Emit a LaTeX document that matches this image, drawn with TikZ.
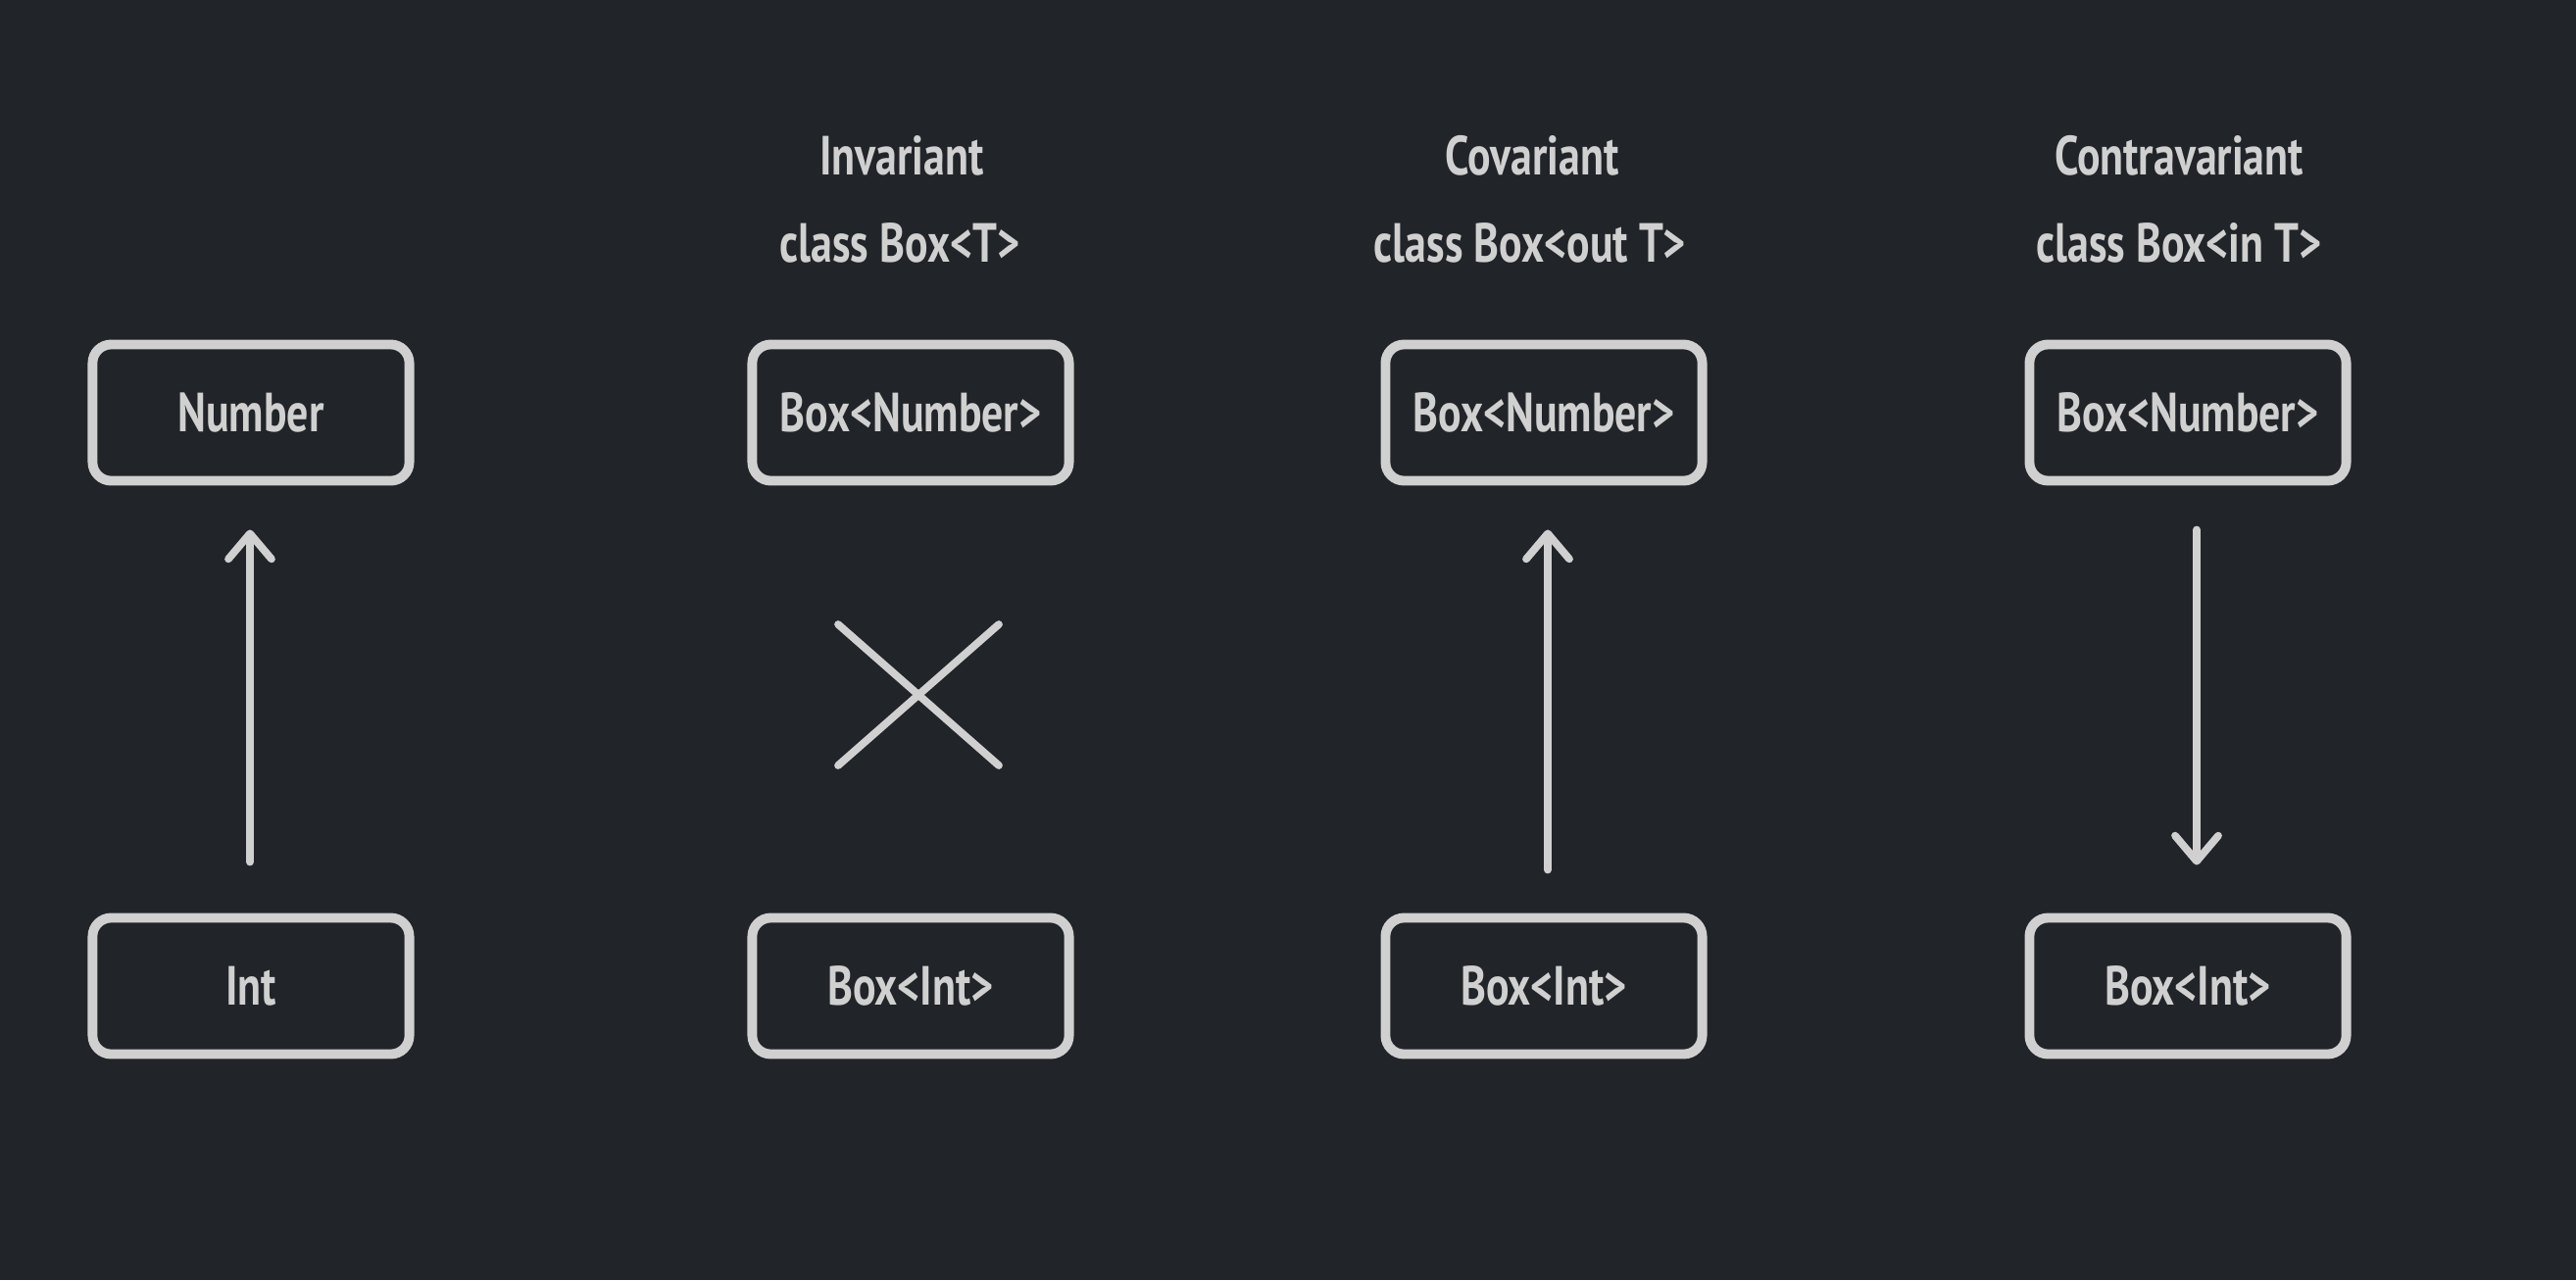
\documentclass[tikz,border=0pt]{standalone}
\usepackage{fontspec}
\setmainfont{PT Sans}[FakeStretch=0.78]
\usetikzlibrary{arrows.meta}
\definecolor{bg}{HTML}{212428}
\definecolor{ink}{HTML}{D0D0D0}
\tikzset{
  every node/.style={text=ink, font=\bfseries\fontsize{16pt}{19pt}\selectfont},
  tbox/.style={draw=ink, line width=2.8pt, rounded corners=0.19cm, minimum width=3.23cm, minimum height=1.39cm, inner sep=0pt},
  label/.style={inner sep=0pt},
  arr/.style={draw=ink, line width=2.2pt, line cap=round, -{Straight Barb[length=0.26cm, width=0.44cm, line width=2.2pt, round]}},
  cross/.style={draw=ink, line width=2.2pt, line cap=round}
}
\begin{document}
\begin{tikzpicture}[x=0.01cm, y=-0.01cm]
  \fill[bg] (0,0) rectangle (2628,1306);
  \useasboundingbox (0,0) rectangle (2628,1306);

  % column 1
  \node[tbox] (num) at (256,421) {Number};
  \node[tbox] (int) at (256,1006) {Int};
  \draw[arr] ([xshift=-0.01cm,yshift=0.52cm]int.north) -- ([xshift=-0.01cm,yshift=-0.45cm]num.south);

  % column 2
  \node[label] (t2) at (920,159) {Invariant};
  \node[label] (c2) at (918,248) {class Box<T>};
  \node[tbox] (bn2) at (929,421) {Box<Number>};
  \node[tbox] (bi2) at (929,1006) {Box<Int>};
  \coordinate (xa) at (855,637);
  \coordinate (xb) at (1019,781);
  \coordinate (xc) at (1019,637);
  \coordinate (xd) at (855,781);
  \draw[cross] (xa) -- (xb);
  \draw[cross] (xc) -- (xd);

  % column 3
  \node[label] (t3) at (1563,159) {Covariant};
  \node[label] (c3) at (1561,248) {class Box<out T>};
  \node[tbox] (bn3) at (1575,421) {Box<Number>};
  \node[tbox] (bi3) at (1575,1006) {Box<Int>};
  \draw[arr] ([xshift=0.04cm,yshift=0.44cm]bi3.north) -- ([xshift=0.04cm,yshift=-0.45cm]bn3.south);

  % column 4
  \node[label] (t4) at (2223,159) {Contravariant};
  \node[label] (c4) at (2223,248) {class Box<in T>};
  \node[tbox] (bn4) at (2232,421) {Box<Number>};
  \node[tbox] (bi4) at (2232,1006) {Box<Int>};
  \draw[arr] ([xshift=0.09cm,yshift=-0.45cm]bn4.south) -- ([xshift=0.09cm,yshift=0.49cm]bi4.north);
\end{tikzpicture}
\end{document}
